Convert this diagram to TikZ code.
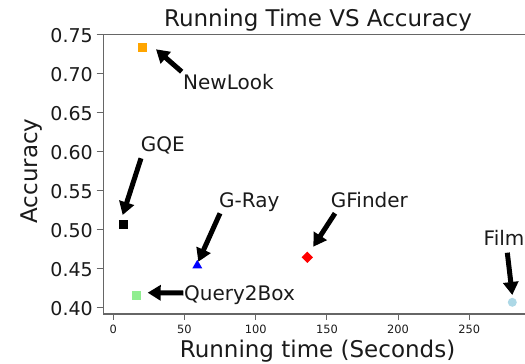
\documentclass[tikz,border=0pt]{standalone}
\usepackage{fontspec}
\setmainfont{DejaVu Sans}
\usetikzlibrary{arrows.meta,shapes.geometric}
\definecolor{mplorange}{HTML}{FFA500}
\definecolor{mplgreen}{HTML}{90EE90}
\definecolor{mplblue}{HTML}{ADD8E6}
\definecolor{txt}{HTML}{1A1A1A}
\begin{document}
\begin{tikzpicture}[x=1pt,y=-1pt,
  spine/.style={draw=black!60,line width=1.1pt},
  tickm/.style={draw=black!60,line width=1pt},
  ytl/.style={anchor=east,inner sep=0pt,text=txt,font=\fontsize{19}{19}\selectfont},
  xtl/.style={anchor=north,inner sep=0pt,text=txt,font=\fontsize{11.4}{11.4}\selectfont},
  big/.style={inner sep=0pt,text=txt,font=\fontsize{23}{23}\selectfont},
  ann/.style={anchor=base west,inner sep=0pt,text=txt,font=\fontsize{20}{20}\selectfont},
  fat/.style={draw=black,line width=5pt,-{Triangle[width=15pt,length=13pt]}},
  sqm/.style={rectangle,minimum size=9pt,inner sep=0pt},
]
\useasboundingbox (0,0) rectangle (525,364);
\clip (0,0) rectangle (525,364);

% axes frame
\draw[spine] (526,34.4) -- (103.3,34.4) -- (103.3,314) -- (526,314);

% y ticks
\foreach \v/\y in {0.75/34.4,0.70/73.4,0.65/112.5,0.60/151.5,0.55/190.6,0.50/229.6,0.45/268.7,0.40/307.7}{
  \draw[tickm] (96.7,\y) -- (103.3,\y);
  \node[ytl] at (93,\y+1) {\v};
}
% x ticks
\foreach \v/\x in {0/113.3,50/184.5,100/255.7,150/326.9,200/398.1,250/469.3}{
  \draw[tickm] (\x,314) -- (\x,320);
  \node[xtl] at (\x,324.5) {\v};
}

% title and axis labels
\node[big,anchor=base] (title) at (318,26.7) {Running Time VS Accuracy};
\node[big,anchor=base] (xlab) at (317.5,357) {Running time (Seconds)};
\node[big,anchor=base,rotate=90] (ylab) at (37,171) {Accuracy};

% markers
\node[sqm,fill=mplorange] (nl) at (142.7,47.7) {};
\node[sqm,fill=black] (gqe) at (123,224) {};
\node[regular polygon,regular polygon sides=3,minimum size=11.5pt,inner sep=0pt,fill=blue] (gray) at (197.3,265.5) {};
\node[diamond,minimum width=11.5pt,minimum height=11.5pt,inner sep=0pt,fill=red] (gf) at (307.3,257.3) {};
\node[sqm,fill=mplgreen] (q2b) at (136.3,295) {};
\node[circle,minimum size=9pt,inner sep=0pt,fill=mplblue] (film) at (512.3,302.3) {};

% annotation labels
\node[ann] (lnl) at (183,89.3) {NewLook};
\node[ann] (lgqe) at (140.7,151.7) {GQE};
\node[ann] (lgray) at (219,207.3) {G-Ray};
\node[ann] (lgf) at (330.7,207.3) {GFinder};
\node[ann] (lfilm) at (483.5,245) {Film};
\node[ann] (lq2b) at (184,300.7) {Query2Box};

% arrow ends
\coordinate (tnl) at (181.7,71.7);   \coordinate (hnl) at (156,49.3);
\coordinate (tgqe) at (141,158.3);   \coordinate (hgqe) at (122.7,215);
\coordinate (tgray) at (220,213.3);  \coordinate (hgray) at (198.3,261.7);
\coordinate (tgf) at (335,213.3);    \coordinate (hgf) at (313.3,246.7);
\coordinate (tfilm) at (507.3,252.7);\coordinate (hfilm) at (512.3,295);
\coordinate (tq2b) at (183.3,293);   \coordinate (hq2b) at (147.7,292.7);

\draw[fat] (tnl) -- (hnl);
\draw[fat] (tgqe) -- (hgqe);
\draw[fat] (tgray) -- (hgray);
\draw[fat] (tgf) -- (hgf);
\draw[fat] (tfilm) -- (hfilm);
\draw[fat] (tq2b) -- (hq2b);
\end{tikzpicture}
\end{document}
